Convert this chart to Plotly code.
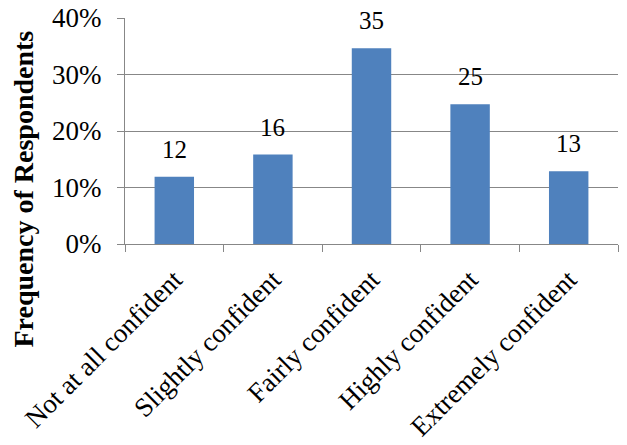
import plotly.graph_objects as go

categories = ["Not at all confident", "Slightly confident", "Fairly confident",
              "Highly confident", "Extremely confident"]
counts = [12, 16, 35, 25, 13]
total = sum(counts)
shares = [c / total for c in counts]

y_ticks = [0, 0.1, 0.2, 0.3, 0.4]
y_tick_labels = ["0%", "10%", "20%", "30%", "40%"]

FONT = "Liberation Serif"
GRID = "#878787"

fig = go.Figure(go.Bar(
    x=categories, y=shares, marker=dict(color="#4F81BD", line=dict(width=0)),
    hoverinfo="skip",
))

# count labels above each bar
for cat, cnt, s in zip(categories, counts, shares):
    fig.add_annotation(x=cat, y=s, text=str(cnt), showarrow=False,
                       yanchor="bottom", yshift=12,
                       font=dict(family=FONT, size=25, color="#000000"))

fig.add_annotation(xref="paper", yref="paper", x=-0.205, y=0.245,
                   text="<b>Frequency of Respondents</b>", textangle=-90,
                   showarrow=False, xanchor="center", yanchor="middle",
                   font=dict(family=FONT, size=28, color="#000000"))

fig.update_layout(
    width=627, height=445,
    margin=dict(l=125, r=9, t=18, b=201),
    plot_bgcolor="white", paper_bgcolor="white",
    bargap=0.6, showlegend=False,
    xaxis=dict(
        tickangle=-45, tickfont=dict(family=FONT, size=27, color="#000000"),
        showline=True, linecolor=GRID, linewidth=1,
        ticks="outside", tickson="boundaries", ticklen=7, tickcolor=GRID,
        ticklabelstandoff=8, showgrid=False, automargin=False,
    ),
    yaxis=dict(
        range=[0, 0.4], tickvals=y_ticks, ticktext=y_tick_labels,
        tickfont=dict(family=FONT, size=27, color="#000000"),
        showline=True, linecolor=GRID, linewidth=1,
        ticks="outside", ticklen=7, tickcolor=GRID, ticklabelstandoff=10,
        showgrid=True, gridcolor=GRID, gridwidth=1, zeroline=False,
        automargin=False,
    ),
)

fig.write_html("out.html")
